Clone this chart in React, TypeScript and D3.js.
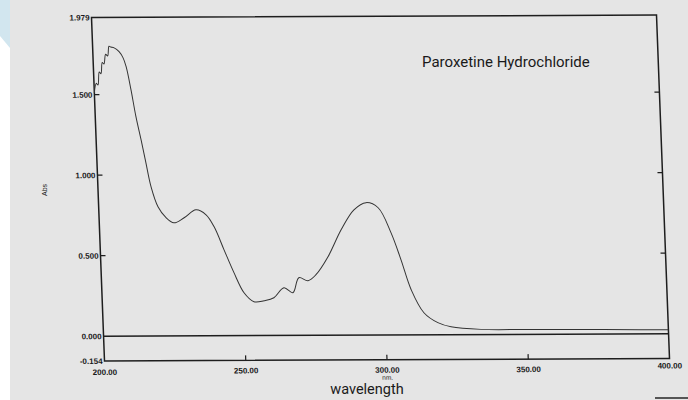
import React, { useRef, useEffect } from 'react'
import { select, scaleLinear, line, curveCatmullRom } from 'd3'

// spectrum (nm, Abs)
const wavelengths = [
  200, 200.8, 201.4, 202, 202.6, 203.2, 203.8, 204.5, 205.2, 205.8, 206.4, 207.6,
  209.3, 210.6, 211.6, 213.0, 214.4, 215.9, 217.3, 218.8, 221.0, 223.7, 226.4,
  230.1, 234.4, 237.9, 240.6, 243.8, 247.0, 250.3, 253.7, 257.3, 260.8, 264.5,
  267.6, 269.9, 273.1, 276.0, 280.5, 285.5, 290.3, 294.7, 298.9, 303.1, 306.3,
  309.5, 313.7, 318.5, 323.1, 333.7, 350, 370, 390, 400,
]
const absorbance = [
  1.51, 1.57, 1.56, 1.64, 1.63, 1.70, 1.69, 1.75, 1.74, 1.80, 1.795, 1.79,
  1.766, 1.729, 1.673, 1.530, 1.362, 1.219, 1.076, 0.927, 0.802, 0.734, 0.702,
  0.733, 0.782, 0.751, 0.676, 0.533, 0.391, 0.266, 0.210, 0.216, 0.234, 0.296,
  0.265, 0.358, 0.339, 0.376, 0.487, 0.654, 0.778, 0.822, 0.790, 0.635, 0.466,
  0.280, 0.137, 0.075, 0.049, 0.032, 0.03, 0.028, 0.026, 0.025,
]

const yTicks = [1.5, 1.0, 0.5]
const yLabels = ['1.979', '1.500', '1.000', '0.500', '0.000', '-0.154']
const yLabelValues = [1.979, 1.5, 1.0, 0.5, 0.0, -0.154]
const xTicks = [250, 300, 350]
const xLabels = ['200.00', '250.00', '300.00', '350.00', '400.00']
const xLabelValues = [200, 250, 300, 350, 400]

const W = 565
const H = 343.5

const App = () => {
  const svgRef = useRef<SVGSVGElement>(null)

  useEffect(() => {
    const svg = select(svgRef.current)
    svg.selectAll('*').remove()

    const xScale = scaleLinear().domain([200, 400]).range([0, W])
    const yScale = scaleLinear().domain([1.979, -0.154]).range([0, H])

    // paper
    svg.append('rect').attr('width', 688).attr('height', 400).attr('fill', '#ffffff')
    svg.append('polygon').attr('points', '0,0 10,0 10,48 0,36').attr('fill', '#d2e6ef')
    svg.append('rect').attr('x', 10).attr('width', 678).attr('height', 400).attr('fill', '#e5e5e5')
    svg.append('line')
      .attr('x1', 655).attr('x2', 688).attr('y1', 398).attr('y2', 398)
      .attr('stroke', '#555').attr('stroke-width', 2)

    // the scan is a little skewed, so the plot sits in a sheared group
    const g = svg.append('g')
      .attr('transform', `matrix(1,${-2.5 / W},${13 / H},1,91.5,17.5)`)

    g.append('rect')
      .attr('width', W).attr('height', H)
      .attr('fill', 'none').attr('stroke', '#1e1e1e').attr('stroke-width', 1.5)

    g.append('line')
      .attr('x1', 0).attr('x2', W)
      .attr('y1', yScale(0)).attr('y2', yScale(0))
      .attr('stroke', '#1e1e1e').attr('stroke-width', 1.5)

    g.selectAll('.ytick-l')
      .data(yTicks)
      .join('line')
      .attr('class', 'ytick-l')
      .attr('x1', 0).attr('x2', 5)
      .attr('y1', d => yScale(d)).attr('y2', d => yScale(d))
      .attr('stroke', '#1e1e1e').attr('stroke-width', 1.2)

    g.selectAll('.ytick-r')
      .data(yTicks)
      .join('line')
      .attr('class', 'ytick-r')
      .attr('x1', W - 5).attr('x2', W)
      .attr('y1', d => yScale(d)).attr('y2', d => yScale(d))
      .attr('stroke', '#1e1e1e').attr('stroke-width', 1.2)

    g.selectAll('.xtick')
      .data(xTicks)
      .join('line')
      .attr('class', 'xtick')
      .attr('x1', d => xScale(d)).attr('x2', d => xScale(d))
      .attr('y1', H).attr('y2', H - 5)
      .attr('stroke', '#1e1e1e').attr('stroke-width', 1.2)

    g.selectAll('.ylabel')
      .data(yLabelValues)
      .join('text')
      .attr('class', 'ylabel')
      .attr('x', -2)
      .attr('y', d => yScale(d) + 3)
      .attr('text-anchor', 'end')
      .attr('font-family', 'Liberation Sans, Arial, sans-serif')
      .attr('font-size', 8)
      .attr('font-weight', 'bold')
      .attr('fill', '#1a1a1a')
      .text((d, i) => yLabels[i])

    g.selectAll('.xlabel')
      .data(xLabelValues)
      .join('text')
      .attr('class', 'xlabel')
      .attr('x', d => xScale(d))
      .attr('y', d => H + (d === 200 ? 14 : d === 400 ? 10 : 13))
      .attr('text-anchor', 'middle')
      .attr('font-family', 'Liberation Sans, Arial, sans-serif')
      .attr('font-size', 8)
      .attr('font-weight', 'bold')
      .attr('fill', '#1a1a1a')
      .text((d, i) => xLabels[i])

    g.append('text')
      .attr('x', xScale(300)).attr('y', H + 20)
      .attr('text-anchor', 'middle')
      .attr('font-family', 'Liberation Sans, Arial, sans-serif')
      .attr('font-size', 6.5)
      .attr('fill', '#1a1a1a')
      .text('nm.')

    const spectrum = wavelengths.map((w, i) => [w, absorbance[i]] as [number, number])
    const path = line<[number, number]>()
      .x(d => xScale(d[0]))
      .y(d => yScale(d[1]))
      .curve(curveCatmullRom.alpha(0.5))

    g.append('path')
      .datum(spectrum)
      .attr('d', path)
      .attr('fill', 'none')
      .attr('stroke', '#333')
      .attr('stroke-width', 1)

    // texts outside the skew
    svg.append('text')
      .attr('transform', 'translate(47,190) rotate(-90)')
      .attr('text-anchor', 'middle')
      .attr('font-family', 'Liberation Sans, Arial, sans-serif')
      .attr('font-size', 7)
      .attr('fill', '#1a1a1a')
      .text('Abs')

    svg.append('text')
      .attr('x', 422).attr('y', 67)
      .attr('font-family', 'Roboto, sans-serif')
      .attr('font-size', 15)
      .attr('fill', '#1a1a1a')
      .text('Paroxetine Hydrochloride')

    svg.append('text')
      .attr('x', 367).attr('y', 394)
      .attr('text-anchor', 'middle')
      .attr('font-family', 'Roboto, sans-serif')
      .attr('font-size', 14.5)
      .attr('fill', '#1a1a1a')
      .text('wavelength')
  }, [])

  return (
    <svg ref={svgRef} width={688} height={400}
      style={{ position: 'absolute', left: 0, top: 0, display: 'block' }} />
  )
}

export default App
